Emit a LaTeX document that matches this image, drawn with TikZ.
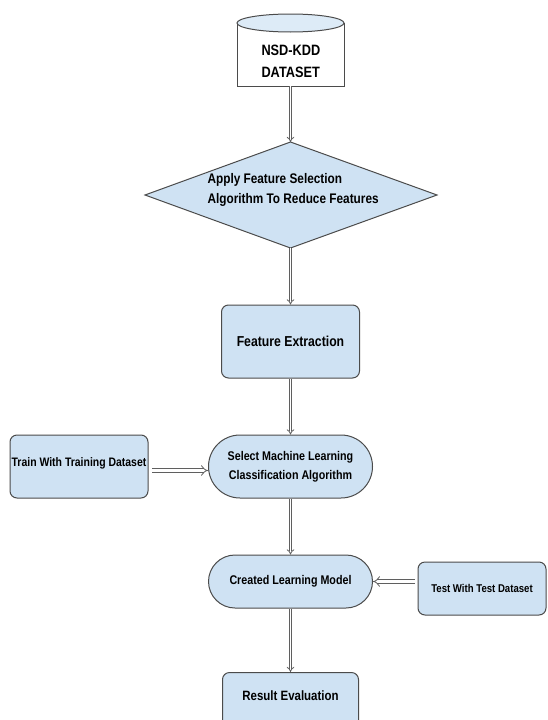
\documentclass[tikz,border=0pt]{standalone}
\usepackage{fontspec}
\usetikzlibrary{arrows.meta,shapes.misc}
\newfontfamily\lbl[FakeStretch=0.85]{Liberation Sans}
\definecolor{boxfill}{RGB}{207,226,243}
\definecolor{boxline}{RGB}{75,75,75}
\definecolor{arrline}{RGB}{95,95,95}
\begin{document}
\begin{tikzpicture}[x=1pt,y=-1pt,
  box/.style={draw=boxline, fill=boxfill, line width=1pt, rounded corners=7pt, inner sep=1pt,
    font=\lbl\bfseries, align=center},
  stad/.style={draw=boxline, fill=boxfill, line width=1pt, rounded rectangle, inner sep=1pt,
    font=\lbl\bfseries, align=center},
  flow/.style={draw=arrline, line width=0.8pt, double=white, double distance=1.8pt, -{Implies}},
  hflow/.style={flow, double distance=2.8pt}]
\useasboundingbox (0,0) rectangle (547,720);
\clip (0,0) rectangle (547,720);
% cylinder
\path[draw=boxline, fill=white, line width=1pt] (237,23) -- (237,86) -- (344,86) -- (344,23);
\draw[boxline, fill=boxfill!70!white, line width=1pt] (290.5,23) ellipse [x radius=53.5, y radius=9];
\node[inner sep=0, minimum width=107, minimum height=72] (ds) at (290.5,50) {};
\node[anchor=west, font=\lbl\bfseries\fontsize{15}{22}\selectfont, align=left] (dstext) at (258,61) {NSD-KDD\\DATASET};
\coordinate (dsbot) at (290.5,86);
% diamond
\coordinate (dtop) at (290.5,142);
\coordinate (dright) at (437,195);
\coordinate (dbot) at (290.5,248);
\coordinate (dleft) at (145,195);
\path[draw=boxline, fill=boxfill, line width=1pt] (dtop) -- (dright) -- (dbot) -- (dleft) -- cycle;
\node[anchor=west, align=left, font=\lbl\bfseries\fontsize{13.9}{20}\selectfont] (dtext) at (204,190)
  {Apply Feature Selection\\Algorithm To Reduce Features};
% boxes
\node[box, minimum width=138, minimum height=73, font=\lbl\bfseries\fontsize{14.4}{17}\selectfont] (fe) at (290.5,341.5) {Feature Extraction};
\node[box, minimum width=138, minimum height=63, text depth=9pt, font=\lbl\bfseries\fontsize{12.3}{15}\selectfont] (train) at (79,466.5) {Train With Training Dataset};
\node[stad, minimum width=166, minimum height=63, font=\lbl\bfseries\fontsize{12.6}{19}\selectfont] (sml) at (290.5,466.5) {Select Machine Learning\\Classification Algorithm};
\node[stad, minimum width=166, minimum height=53, font=\lbl\bfseries\fontsize{12.6}{15}\selectfont] (clm) at (290.5,581.5) {Created Learning Model};
\node[box, minimum width=128, minimum height=53, font=\lbl\bfseries\fontsize{11.3}{14}\selectfont] (test) at (482,588.5) {Test With Test Dataset};
\node[box, anchor=north, minimum width=136, minimum height=70, text depth=24pt, font=\lbl\bfseries\fontsize{13.5}{16}\selectfont] (res) at (290.5,672) {Result Evaluation};
% connectors
\coordinate (trainout) at (152,470.5);
\coordinate (testout) at (415,581.5);
\draw[flow] (dsbot) -- (dtop);
\draw[flow] (dbot) -- (fe.north);
\draw[flow] (fe.south) -- (sml.north);
\draw[flow] (sml.south) -- (clm.north);
\draw[flow] (clm.south) -- (res.north);
\draw[hflow] (trainout) -- (sml.west |- trainout);
\draw[hflow] (testout) -- (clm.east |- testout);
\end{tikzpicture}
\end{document}
